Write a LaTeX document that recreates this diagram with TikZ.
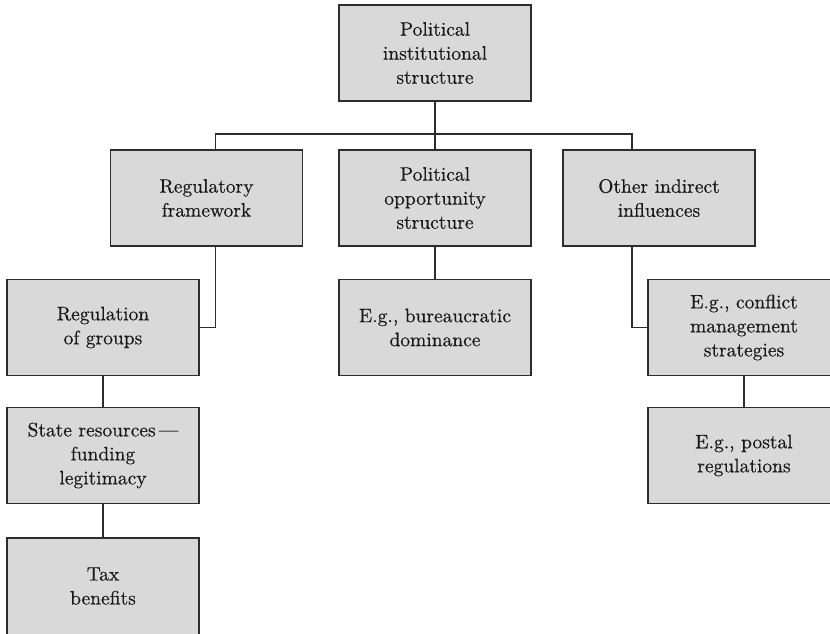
\documentclass[tikz,border=0pt]{standalone}
\usepackage{fontspec}
\newfontfamily\boxfont{lmroman10-regular.otf}[Ligatures=TeX, FakeBold=0.35]
\definecolor{boxfill}{RGB}{217,217,217}
\definecolor{edge}{RGB}{45,45,45}
\tikzset{
  boxtext/.style={align=center, font=\boxfont\fontsize{19.5}{24}\selectfont, text=black!90},
  orgbox/.style={boxtext, draw=edge, line width=1.3pt, fill=boxfill, minimum width=192pt, minimum height=96pt,
    inner sep=0pt},
  widebox/.style={orgbox, minimum width=230pt},
  conn/.style={draw=edge, line width=1.3pt}
}
\begin{document}
\begin{tikzpicture}[x=1pt,y=-1pt]
\useasboundingbox (0,0) rectangle (830,633);
\clip (0,0) rectangle (830,633);
\node[orgbox] (top) at (435,53) {Political\\institutional\\structure};
\node[orgbox] (A) at (206.5,198) {Regulatory\\framework};
\node[orgbox] (B) at (435,198) {Political\\opportunity\\structure};
\node[orgbox] (C) at (659,198) {Other indirect\\influences};
\node[orgbox] (D) at (103,327.5) {Regulation\\of groups};
\node[orgbox] (E) at (435,327.5) {E.g., bureaucratic\\dominance};
\node[widebox] (F) at (763,327.5) {};
\node[widebox] (H) at (763,455.5) {};
\node[boxtext] (Ft) at (744,327.5) {E.g., conflict\\management\\strategies};
\node[boxtext] (Ht) at (744,455.5) {E.g., postal\\regulations};
\node[orgbox] (G) at (103,455.5) {State resources\,---\\funding\\legitimacy};
\node[orgbox, minimum height=110pt] (I) at (103,593) {};
\node[boxtext] (It) at (103,586) {Tax\\benefits};
\coordinate (barL) at (215.7,134);
\coordinate (barR) at (632,134);
\draw[conn] (top.south) -- (top.south |- barL);
\draw[conn] (A.north -| barL) -- (barL) -- (barR) -- (C.north -| barR);
\draw[conn] (top.south |- barL) -- (B.north);
\draw[conn] (A.south -| barL) |- (D.east);
\draw[conn] (C.south -| barR) |- (F.west);
\draw[conn] (B.south) -- (E.north);
\draw[conn] (D.south) -- (G.north);
\draw[conn] (G.south) -- (I.north);
\draw[conn] (F.south -| Ft) -- (H.north -| Ht);
\end{tikzpicture}
\end{document}
